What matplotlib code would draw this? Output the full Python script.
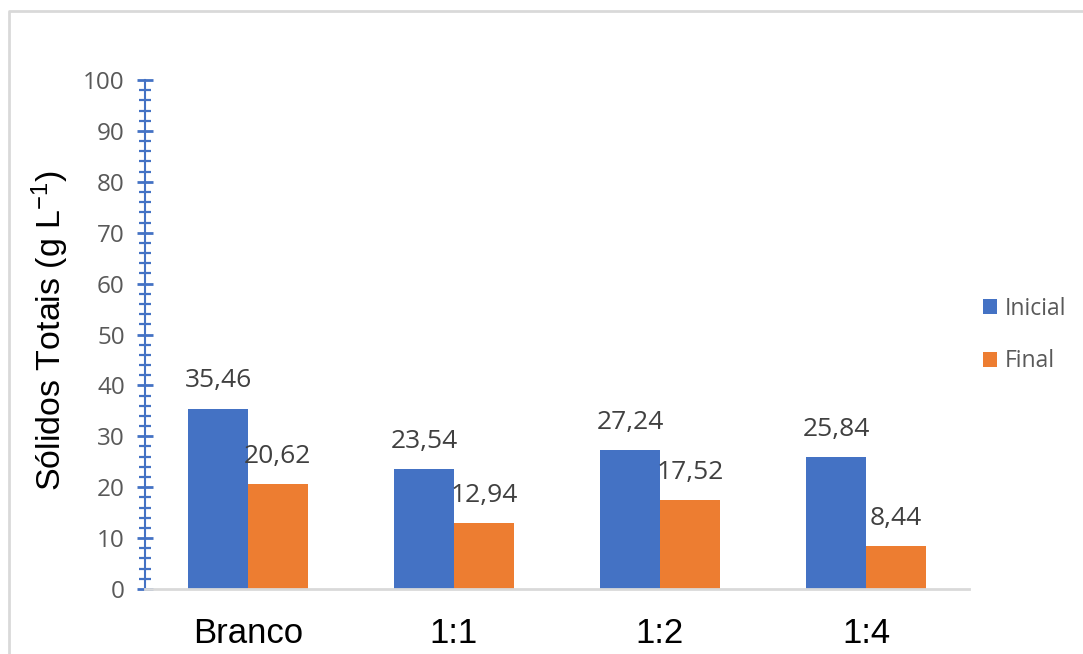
import matplotlib
matplotlib.use("Agg")
import matplotlib.pyplot as plt
from matplotlib.lines import Line2D
from matplotlib.ticker import MultipleLocator
import numpy as np

categories = ["Branco", "1:1", "1:2", "1:4"]
inicial = [35.46, 23.54, 27.24, 25.84]
final = [20.62, 12.94, 17.52, 8.44]
series_names = ["Inicial", "Final"]
y_label = "Sólidos Totais (g L$^{-1}$)"

BLUE = "#4472C4"
ORANGE = "#ED7D31"

plt.rcParams['mathtext.fontset'] = 'custom'
plt.rcParams['mathtext.rm'] = 'Liberation Sans'
plt.rcParams['mathtext.it'] = 'Liberation Sans'

fig = plt.figure(figsize=(10.83, 6.54), dpi=100)
ax = fig.add_axes([145/1083, 1-589/654, (969-145)/1083, (589-80)/654])

x = np.arange(len(categories))
w = 0.29
b1 = ax.bar(x - w/2, inicial, w, color=BLUE, label=series_names[0], zorder=2)
b2 = ax.bar(x + w/2, final, w, color=ORANGE, label=series_names[1], zorder=2)

def fmt(v):
    return f"{v:.2f}".replace(".", ",")

for bars, vals in ((b1, inicial), (b2, final)):
    for rect, v in zip(bars, vals):
        ax.annotate(fmt(v), (rect.get_x() + rect.get_width()/2, v),
                    xytext=(0, 20), textcoords="offset points",
                    ha="center", va="center", fontsize=19,
                    family="Open Sans", color="#404040")

ax.set_xlim(-0.5, len(categories) - 0.5)
ax.set_ylim(0, 100)
ax.yaxis.set_major_locator(MultipleLocator(10))
ax.yaxis.set_minor_locator(MultipleLocator(2))
ax.set_xticks(x)
ax.set_xticklabels(categories, fontsize=25, family="Liberation Sans", color="black")
ax.tick_params(axis="x", length=0, pad=20)
ax.tick_params(axis="y", which="major", direction="inout", length=11, width=2,
               color=BLUE, labelsize=17.5, labelcolor="#595959", pad=9)
ax.tick_params(axis="y", which="minor", direction="inout", length=9, width=1.6,
               color=BLUE)
for lab in ax.get_yticklabels():
    lab.set_family("Open Sans")

for s in ("top", "right"):
    ax.spines[s].set_visible(False)
ax.spines["left"].set_color(BLUE)
ax.spines["left"].set_linewidth(1.5)
ax.spines["bottom"].set_color("#D9D9D9")
ax.spines["bottom"].set_linewidth(2)

fig.text(50/1083, 1-330/654, y_label, rotation=90, ha="center", va="center",
         fontsize=24.5, family="Liberation Sans", color="black")

leg = ax.legend(loc="center left", bbox_to_anchor=(972/1083, 1-335/654),
                bbox_transform=fig.transFigure, frameon=False,
                prop={"family": "Open Sans", "size": 16.5},
                handlelength=0.6, handleheight=0.6, handletextpad=0.35,
                labelspacing=1.25, borderpad=0)
for t in leg.get_texts():
    t.set_color("#595959")

# outer chart frame (partially visible)
fig.add_artist(Line2D([8.5/1083, 8.5/1083, 1.0], [0.0, 1-10.5/654, 1-10.5/654],
                      transform=fig.transFigure, color="#D9D9D9", linewidth=2))

fig.savefig("out.png", dpi=100)
